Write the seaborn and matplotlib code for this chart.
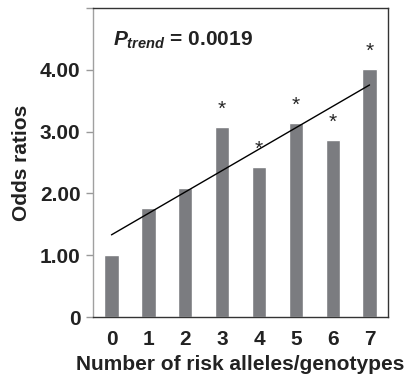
import numpy as np
import matplotlib
matplotlib.use("Agg")
import matplotlib.pyplot as plt
import seaborn as sns

# data
risk_alleles = [0, 1, 2, 3, 4, 5, 6, 7]
odds_ratios = [1.00, 1.76, 2.08, 3.07, 2.42, 3.14, 2.86, 4.01]
significant = [False, False, False, True, True, True, True, True]
y_ticks = [0, 1, 2, 3, 4, 5]
y_tick_labels = ["0", "1.00", "2.00", "3.00", "4.00", ""]
p_trend = "0.0019"

sns.set_style("white")
plt.rcParams["font.family"] = ["Liberation Sans", "DejaVu Sans"]
plt.rcParams["mathtext.fontset"] = "custom"
plt.rcParams["mathtext.it"] = "Liberation Sans:italic:bold"
plt.rcParams["mathtext.rm"] = "Liberation Sans:bold"

fig = plt.figure(figsize=(4.16, 3.77), dpi=100)
ax = fig.add_axes([0.2236, 0.159, 0.7091, 0.8198])

sns.barplot(x=risk_alleles, y=odds_ratios, color="#7b7c80", saturation=1,
            width=0.39, ax=ax)
sns.regplot(x=np.array(risk_alleles, dtype=float), y=np.array(odds_ratios),
            scatter=False, ci=None, truncate=True,
            line_kws={"color": "black", "lw": 1.0}, ax=ax)

# asterisks over significant groups
for x, y, sig in zip(risk_alleles, odds_ratios, significant):
    if sig:
        ax.text(x, y + 0.2, "*", ha="center", va="baseline", fontsize=15)

ax.text(0.04, 4.39, r"$P_{trend}$ = " + p_trend, ha="left", va="baseline",
        fontsize=15, fontweight="bold", color="#222222")

ax.set_xlim(-0.5, 7.5)
ax.set_ylim(0, 5)
ax.set_yticks(y_ticks)
ax.set_yticklabels(y_tick_labels, fontsize=15, fontweight="bold", color="#222222")
ax.set_xticks(range(len(risk_alleles)))
ax.set_xticklabels([str(v) for v in risk_alleles], fontsize=15, fontweight="bold",
                   color="#222222")
ax.tick_params(axis="y", left=True, length=5, width=1, color="#999999", pad=4)
ax.tick_params(axis="x", bottom=False, pad=6)

ax.set_xlabel("Number of risk alleles/genotypes", fontsize=15, fontweight="bold",
              labelpad=4, color="#222222")
ax.set_ylabel("Odds ratios", fontsize=15, fontweight="bold", labelpad=6,
              color="#222222")

ax.spines["left"].set_color("#a0a0a0")
for s in ["top", "right", "bottom"]:
    ax.spines[s].set_color("#333333")
for s in ax.spines.values():
    s.set_linewidth(1.0)

fig.savefig("out.png", dpi=100)
